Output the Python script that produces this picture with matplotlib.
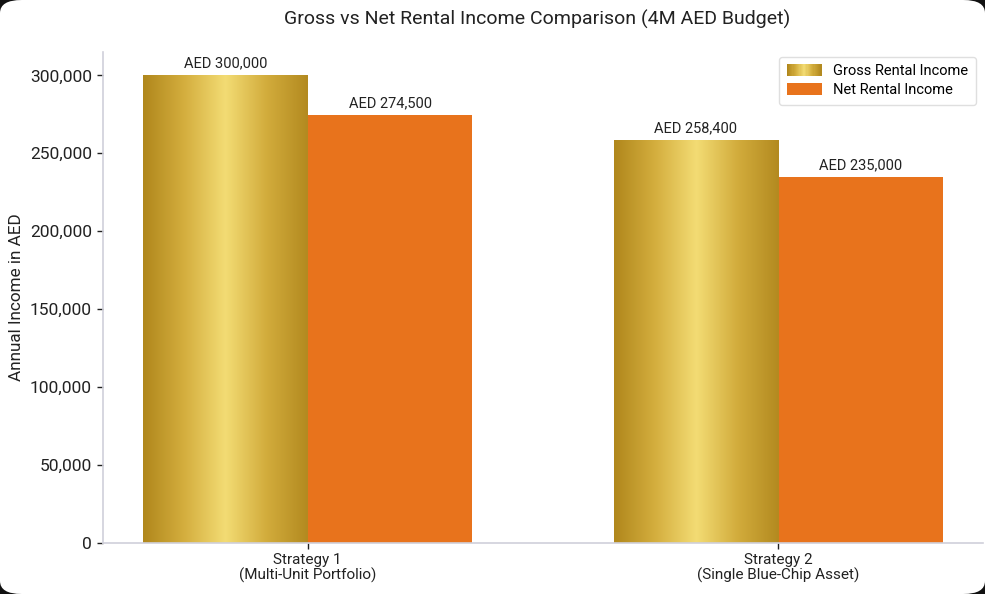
import numpy as np
import matplotlib
matplotlib.use("Agg")
import matplotlib.pyplot as plt
from matplotlib.patches import FancyBboxPatch, Rectangle
from matplotlib.legend_handler import HandlerBase
from matplotlib.colors import LinearSegmentedColormap
from matplotlib.ticker import FuncFormatter

plt.rcParams['font.family'] = ['Roboto', 'DejaVu Sans']

# -------------------- data --------------------
strategies = ["Strategy 1\n(Multi-Unit Portfolio)", "Strategy 2\n(Single Blue-Chip Asset)"]
gross_income = [300000, 258400]
net_income = [274500, 235000]
series_names = ["Gross Rental Income", "Net Rental Income"]

GOLD_STOPS = ["#B0871C", "#D4AE3E", "#F3DC74", "#D2AC3C", "#B38A20"]
ORANGE = "#E8731C"
gold_cmap = LinearSegmentedColormap.from_list("gold", GOLD_STOPS)


class GradientHandler(HandlerBase):
    def create_artists(self, legend, orig_handle, xdescent, ydescent,
                       width, height, fontsize, trans):
        n = 30
        arts = []
        for i in range(n):
            r = Rectangle((-xdescent + width * i / n, -ydescent), width / n + 0.3, height,
                          facecolor=gold_cmap(i / (n - 1)), edgecolor="none",
                          transform=trans)
            arts.append(r)
        return arts


fig = plt.figure(figsize=(9.85, 5.94), dpi=100, facecolor="#111111")
# rounded white card like the screenshot frame
card = FancyBboxPatch((0.0, 0.0), 1.0, 1.0,
                      boxstyle="round,pad=0,rounding_size=0.022",
                      transform=fig.transFigure, facecolor="white",
                      edgecolor="none", zorder=-10)
fig.patches.append(card)

ax = fig.add_axes([0.1046, 0.0859, 0.8934, 0.8266])
ax.set_facecolor("none")

x = np.arange(len(strategies))
w = 0.35
gross_bars = ax.bar(x - w / 2, gross_income, w, color=GOLD_STOPS[0], label=series_names[0])
net_bars = ax.bar(x + w / 2, net_income, w, color=ORANGE, label=series_names[1])

# gold gradient fill clipped to the bars
grad = np.linspace(0, 1, 256).reshape(1, -1)
for b in gross_bars:
    bx, by = b.get_x(), b.get_y()
    im = ax.imshow(grad, cmap=gold_cmap, aspect="auto",
                   extent=[bx, bx + b.get_width(), by, by + b.get_height()],
                   zorder=b.get_zorder() + 0.1)
    im.set_clip_path(b)

for bars in (gross_bars, net_bars):
    for b in bars:
        ax.annotate(f"AED {int(b.get_height()):,}",
                    (b.get_x() + b.get_width() / 2, b.get_height()),
                    xytext=(0, 3.5), textcoords="offset points",
                    ha="center", va="bottom", fontsize=10.5, color="#222222")

ax.set_xlim(-0.435, 1.435)
ax.set_ylim(0, 315000)
ax.set_xticks(x)
ax.set_xticklabels(strategies, fontsize=11, color="#222222", linespacing=1.12)
ax.yaxis.set_major_formatter(FuncFormatter(lambda v, p: f"{int(v):,}"))
ax.tick_params(axis="y", labelsize=12.5, colors="#222222", length=4, width=1, pad=4)
ax.tick_params(axis="x", length=4, width=1, colors="#222222", pad=3)
ax.set_ylabel("Annual Income in AED", fontsize=12.3, color="#222222", labelpad=4)

for s in ("top", "right"):
    ax.spines[s].set_visible(False)
for s in ("left", "bottom"):
    ax.spines[s].set_color("#D0D0DA")
    ax.spines[s].set_linewidth(1.2)

ax.legend(handler_map={gross_bars: GradientHandler()},
          loc="upper right", bbox_to_anchor=(1.0, 1.005), fontsize=10.5,
          frameon=True, edgecolor="#D8D8D8", fancybox=True,
          handlelength=2.4, handleheight=0.9, borderpad=0.5, labelspacing=0.35)

fig.text(0.545, 0.968, "Gross vs Net Rental Income Comparison (4M AED Budget)",
         ha="center", va="center", fontsize=14, color="#222222")

fig.savefig("out.png", dpi=100, facecolor=fig.get_facecolor())
